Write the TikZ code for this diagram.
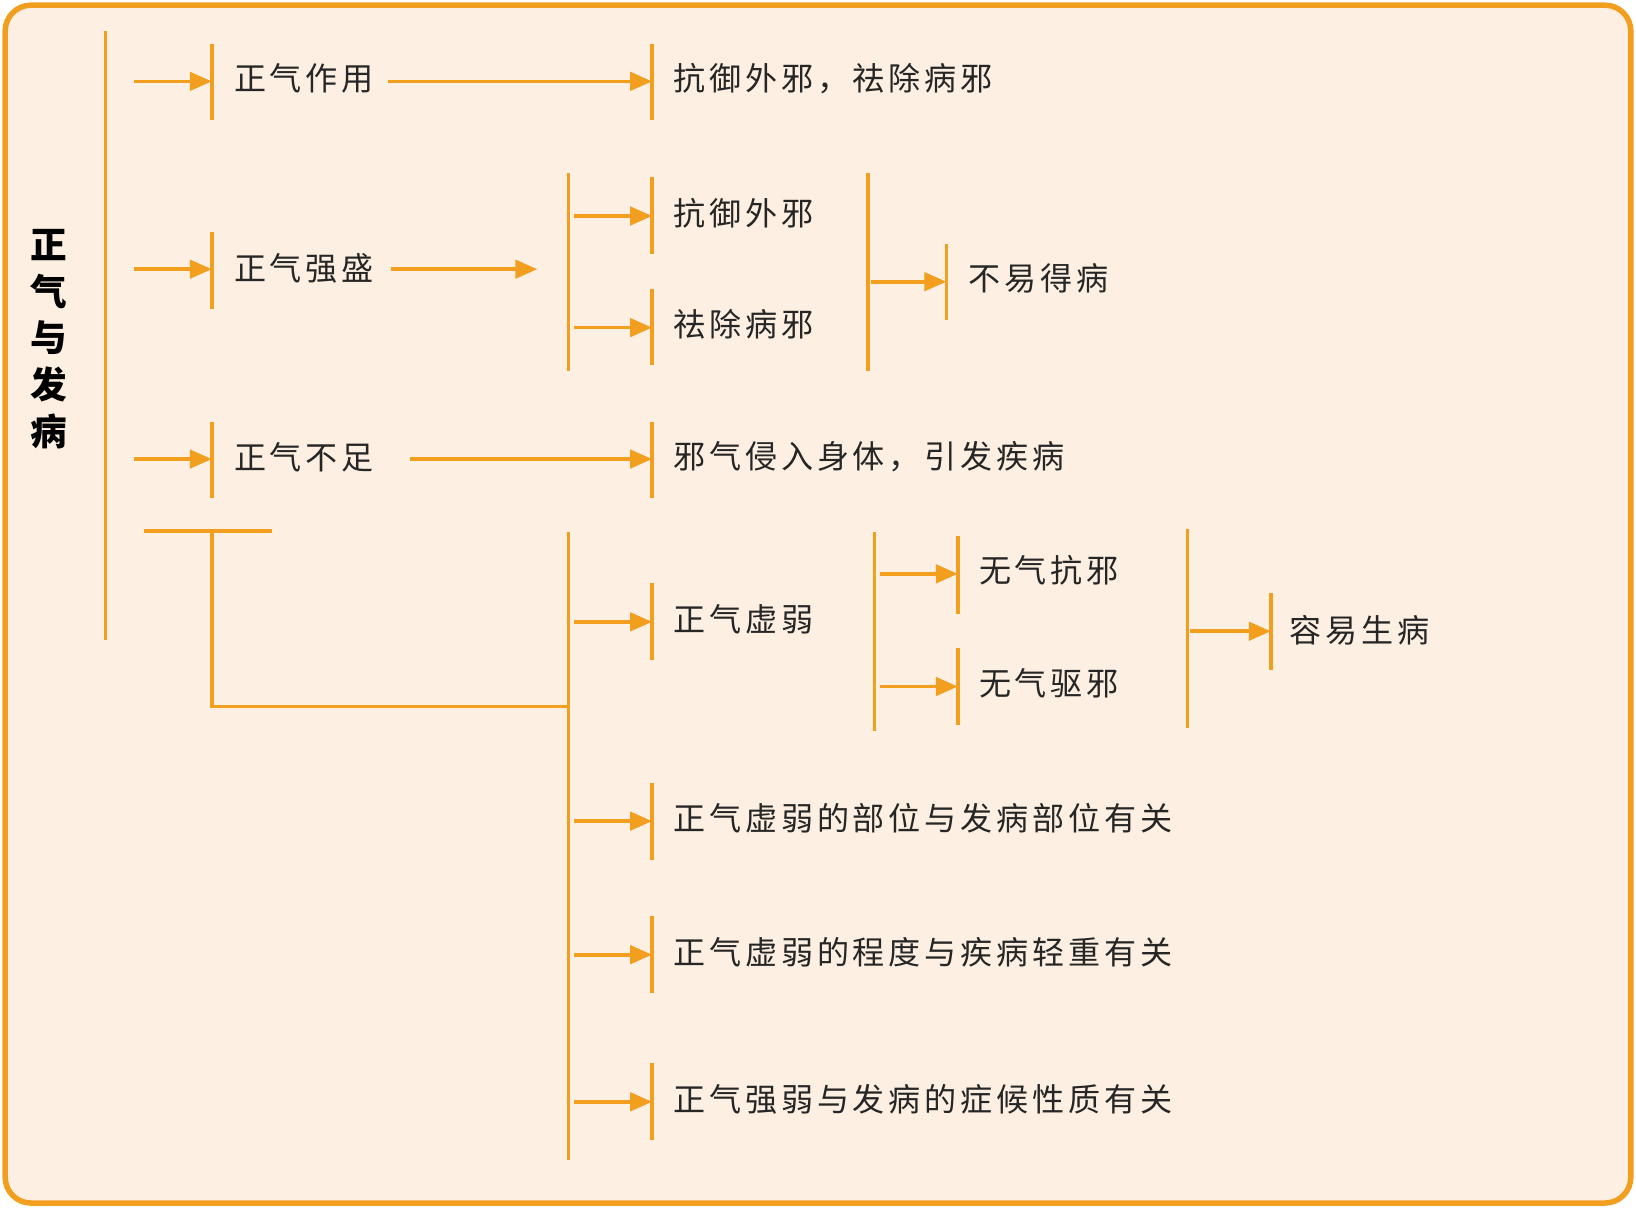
\documentclass[tikz,border=0pt]{standalone}
\usepackage{fontspec}
\newfontfamily\cjk[LetterSpace=12]{Noto Sans CJK SC}
\newfontfamily\cjkb{Noto Sans CJK SC}
\usetikzlibrary{arrows.meta}
\definecolor{org}{HTML}{F29E1F}
\definecolor{bg}{HTML}{FDF0E2}
\tikzset{
 ln/.style={draw=org,line width=2pt},
 ar/.style={ln,-{Triangle[length=12pt,width=10pt]}},
 tx/.style={anchor=west,inner sep=0pt,font=\cjk\fontsize{17.5pt}{19pt}\selectfont,text=black!85},
}
\begin{document}
\begin{tikzpicture}[x=0.02cm,y=-0.02cm]
\useasboundingbox (0,0) rectangle (1568,1158);
\draw[draw=org,fill=bg,line width=3pt,rounded corners=14pt] (5,5) rectangle (1563,1153);
\node[inner sep=0pt,align=center,font=\cjkb\bfseries\fontsize{20pt}{25.5pt}\selectfont] (title) at (47,325) {正\\气\\与\\发\\病};
\draw[ln] (101,30) -- (101,613);
\foreach \x/\a/\b in {203/42/115,625/42/115,203/222/296,545/166/356,625/170/243,625/277/350,832/166/356,907/234/307,203/404/477,625/404/477,545/510/1112,625/559/633,625/750/824,625/878/952,625/1019/1093,838/510/701,918/514/588,918/621/695,1138/507/698,1218/568/642}
 \draw[ln] (\x,\a) -- (\x,\b);
\foreach \x/\y/\z in {128/203/78,372/625/78,128/203/258,375/515/258,550/625/207,550/625/314,835/907/270,128/203/440,393/625/440,550/625/596,550/625/787,550/625/915,550/625/1056,843/918/550,843/918/658,1141/1218/605}
 \draw[ar] (\x,\z) -- (\y,\z);
\draw[ln] (138,509) -- (261,509);
\draw[ln] (203,509) -- (203,677) -- (545,677);
\node[tx] (a1) at (224,75) {正气作用};
\node[tx] (a2) at (645,75) {抗御外邪，祛除病邪};
\node[tx] (b1) at (224,257) {正气强盛};
\node[tx] (b2) at (645,204) {抗御外邪};
\node[tx] (b3) at (645,311) {祛除病邪};
\node[tx] (b4) at (928,267) {不易得病};
\node[tx] (c1) at (224,438) {正气不足};
\node[tx] (c2) at (645,438) {邪气侵入身体，引发疾病};
\node[tx] (d1) at (645,594) {正气虚弱};
\node[tx] (d2) at (938,547) {无气抗邪};
\node[tx] (d3) at (938,655) {无气驱邪};
\node[tx] (d4) at (1236,604) {容易生病};
\node[tx] (e1) at (645,784) {正气虚弱的部位与发病部位有关};
\node[tx] (e2) at (645,913) {正气虚弱的程度与疾病轻重有关};
\node[tx] (e3) at (645,1054) {正气强弱与发病的症候性质有关};
\end{tikzpicture}
\end{document}
